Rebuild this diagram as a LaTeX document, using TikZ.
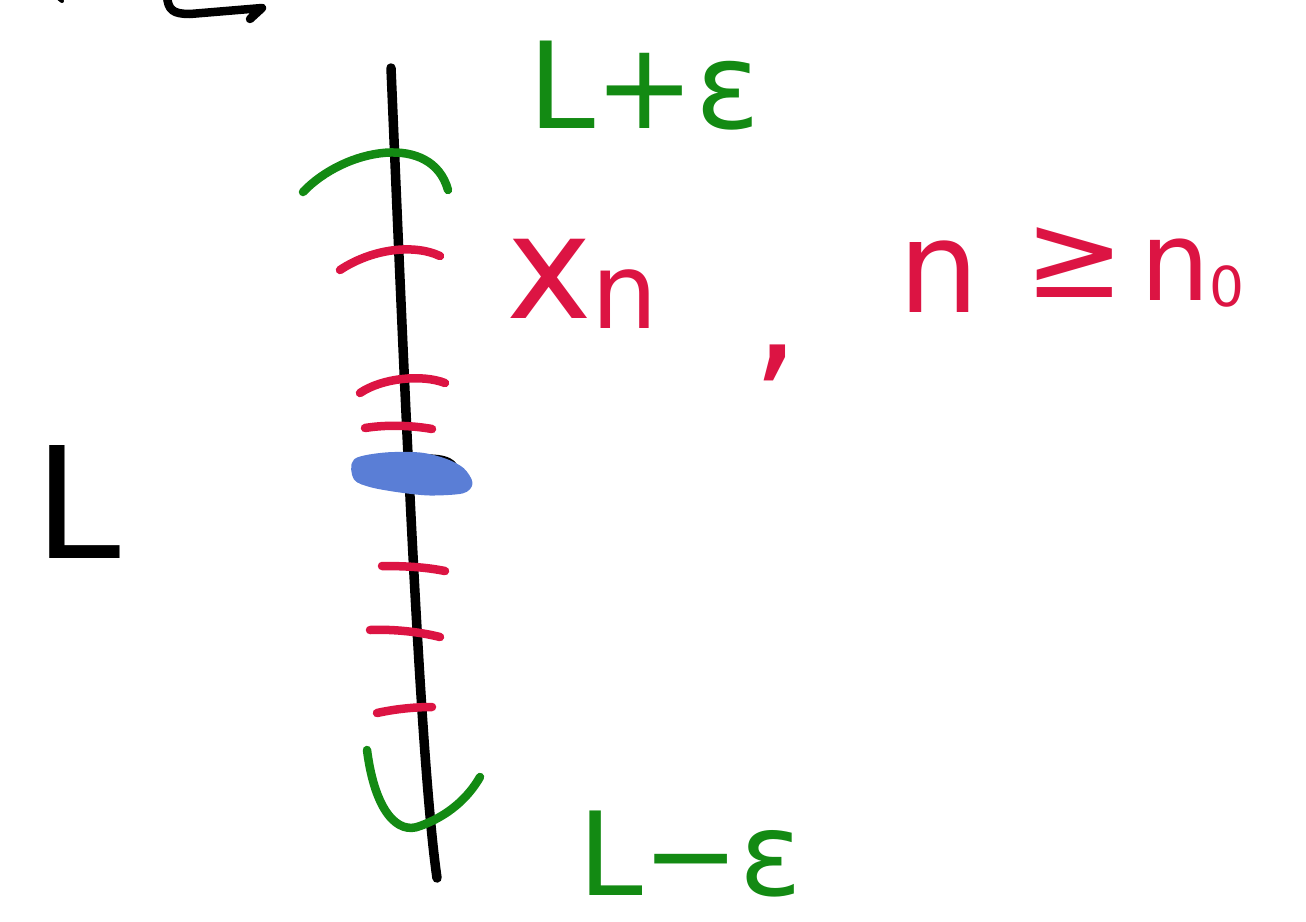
\documentclass[tikz,border=0pt]{standalone}
\usepackage{fontspec}
\setmainfont{DejaVu Sans}
\definecolor{pgreen}{HTML}{138A13}
\definecolor{pred}{HTML}{DC1443}
\definecolor{pblue}{HTML}{5A7ED6}
\tikzset{
  pen/.style={line width=8.5pt, line cap=round, line join=round},
  lbl/.style={inner sep=0pt, outer sep=0pt, anchor=base west},
}
\newcommand{\fsz}[1]{\fontsize{#1}{#1}\selectfont}
\begin{document}
\begin{tikzpicture}[x=1pt,y=-1pt]
\useasboundingbox (0,0) rectangle (1306,921);
% top-left fragment
\draw[pen,black] (167,-4) .. controls (168,10) and (173,14) .. (190,14) -- (262,8) -- (250,19);
\draw[pen,black,line width=4pt] (57,-3) -- (62,1);
% main line
\coordinate (top) at (391,68);
\coordinate (bot) at (437,878);
\draw[pen,black,line width=9.5pt] (top) .. controls (405,400) and (420,760) .. (bot);
% green arcs
\draw[pen,pgreen] (303,192) .. controls (345,148) and (432,132) .. (448,190);
\draw[pen,pgreen] (367,750) .. controls (375,812) and (398,835) .. (420,826) .. controls (448,816) and (468,798) .. (480,777);
% red ticks
\draw[pen,pred] (340,270) .. controls (370,250) and (412,243) .. (440,256);
\draw[pen,pred] (360,393) .. controls (382,378) and (422,374) .. (445,383);
\draw[pen,pred] (365,428) .. controls (390,424) and (415,426) .. (432,429);
\draw[pen,pred] (382,566) .. controls (405,566) and (425,567) .. (445,571);
\draw[pen,pred] (370,630) .. controls (395,629) and (420,632) .. (440,637);
\draw[pen,pred] (377,713) .. controls (395,709) and (415,707) .. (432,707);
% black hook and blue blob
\draw[pen,black,line width=7pt] (423,458) .. controls (445,457) and (458,462) .. (455,475);
\draw[pblue,fill=pblue,line width=5pt,line join=round] plot[smooth cycle] coordinates {(356,461) (385,455) (420,455) (445,461) (462,470) (470,483) (462,491) (430,493) (400,490) (372,485) (356,478)};
% labels
\node[lbl,text=pgreen,font=\fsz{120}] (Lplus) at (528,128) {L+ε};
\node[lbl,text=pgreen,font=\fsz{116}] (Lminus) at (578,895) {L−ε};
\node[lbl,text=black,font=\fsz{155}] (L) at (34,558) {L};
\node[lbl,text=pred,font=\fsz{145}] (xn) at (506,318) {x\raisebox{-10pt}{\fsz{105}n}};
\node[lbl,text=pred,font=\fsz{150}] (comma) at (752,363) {,};
\node[lbl,text=pred,font=\fsz{128}] (n1) at (898,312) {n};
\node[lbl,text=pred,font=\fsz{120}] (geq) at (1024,297) {≥};
\node[lbl,text=pred,font=\fsz{110}] (n0) at (1140,300) {n\raisebox{-6pt}{\fsz{55}0}};
\end{tikzpicture}
\end{document}
